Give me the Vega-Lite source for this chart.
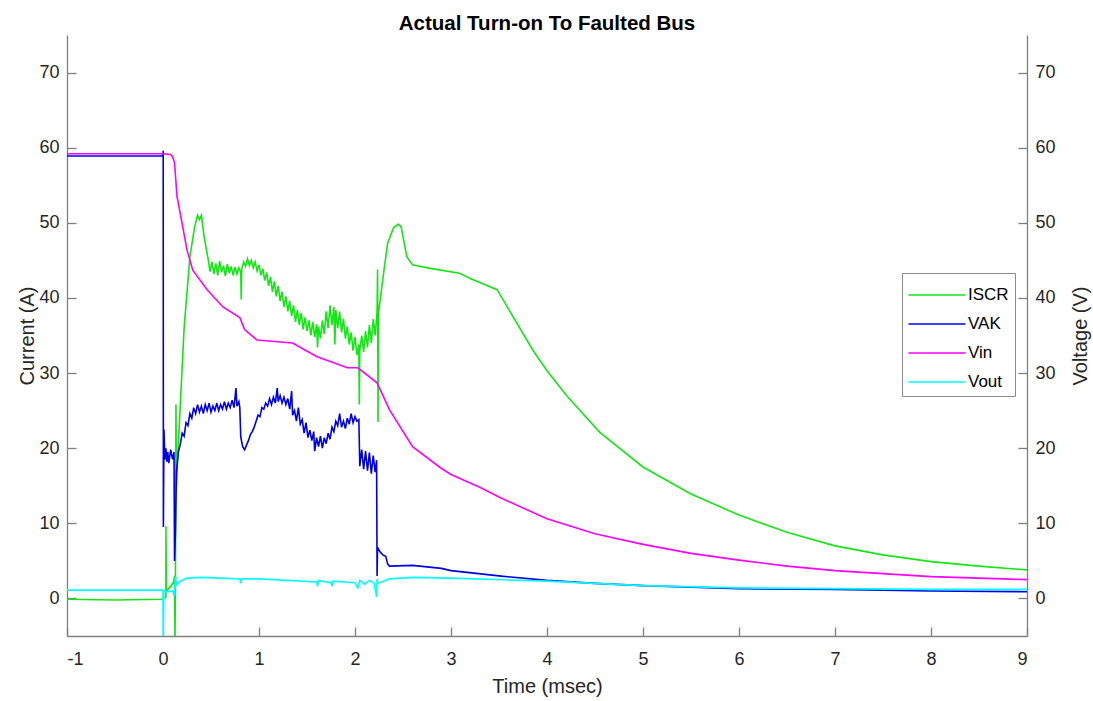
{
  "$schema": "https://vega.github.io/schema/vega-lite/v6.json",
  "autosize": {"type": "none"},
  "width": 960,
  "height": 601,
  "padding": {"left": 67, "top": 35, "right": 66, "bottom": 65},
  "background": "white",
  "title": {"text": "Actual Turn-on To Faulted Bus", "font": "Liberation Sans", "fontSize": 20.5, "fontWeight": "bold", "color": "#000000", "offset": 1},
  "config": {
    "view": {"stroke": null},
    "axis": {"domainColor": "#7f7f7f", "tickColor": "#7f7f7f", "labelColor": "#262626", "titleColor": "#262626", "labelFont": "Liberation Sans", "titleFont": "Liberation Sans", "labelFontSize": 18, "titleFontSize": 20, "titleFontWeight": "normal", "grid": false, "tickSize": -9, "domainWidth": 1.3, "tickWidth": 1.3, "labelExpr": "'' + datum.value"},
    "legend": {"labelFont": "Liberation Sans", "labelFontSize": 17, "labelColor": "#000000"}
  },
  "data": {"values": [
    {"s":"ISCR","t":-1.0,"v":-0.1},{"s":"ISCR","t":-0.5,"v":-0.2},{"s":"ISCR","t":0.0,"v":-0.1},{"s":"ISCR","t":0.03,"v":0.2},{"s":"ISCR","t":0.031,"v":9.6},{"s":"ISCR","t":0.035,"v":1.0},{"s":"ISCR","t":0.08,"v":1.6},{"s":"ISCR","t":0.11,"v":2.2},{"s":"ISCR","t":0.12,"v":3.0},{"s":"ISCR","t":0.125,"v":-6},{"s":"ISCR","t":0.13,"v":4.0},{"s":"ISCR","t":0.135,"v":25.8},{"s":"ISCR","t":0.14,"v":15.0},{"s":"ISCR","t":0.15,"v":18.0},{"s":"ISCR","t":0.22,"v":36.0},{"s":"ISCR","t":0.28,"v":45.5},{"s":"ISCR","t":0.33,"v":49.5},{"s":"ISCR","t":0.36,"v":51.0},{"s":"ISCR","t":0.38,"v":50.4},{"s":"ISCR","t":0.40,"v":51.0},{"s":"ISCR","t":0.43,"v":48.0},
    {"s":"ISCR","t":0.47,"v":45.2},{"s":"ISCR","t":0.49,"v":43.5},{"s":"ISCR","t":0.51,"v":44.8},{"s":"ISCR","t":0.53,"v":43.2},{"s":"ISCR","t":0.55,"v":44.6},{"s":"ISCR","t":0.57,"v":43.0},{"s":"ISCR","t":0.59,"v":44.9},{"s":"ISCR","t":0.61,"v":43.4},{"s":"ISCR","t":0.63,"v":44.3},{"s":"ISCR","t":0.65,"v":42.9},{"s":"ISCR","t":0.67,"v":44.5},{"s":"ISCR","t":0.69,"v":43.3},{"s":"ISCR","t":0.71,"v":44.2},{"s":"ISCR","t":0.73,"v":43.0},{"s":"ISCR","t":0.75,"v":44.1},{"s":"ISCR","t":0.77,"v":43.2},{"s":"ISCR","t":0.79,"v":44.0},{"s":"ISCR","t":0.81,"v":43.5},{"s":"ISCR","t":0.815,"v":39.8},{"s":"ISCR","t":0.82,"v":43.8},{"s":"ISCR","t":0.84,"v":44.8},{"s":"ISCR","t":0.86,"v":44.2},{"s":"ISCR","t":0.88,"v":45.2},{"s":"ISCR","t":0.90,"v":44.3},{"s":"ISCR","t":0.92,"v":45.0},{"s":"ISCR","t":0.94,"v":44.0},{"s":"ISCR","t":0.96,"v":44.8},{"s":"ISCR","t":0.98,"v":43.6},{"s":"ISCR","t":1.00,"v":44.4},{"s":"ISCR","t":1.02,"v":43.0},{"s":"ISCR","t":1.04,"v":43.9},{"s":"ISCR","t":1.06,"v":42.3},{"s":"ISCR","t":1.08,"v":43.4},{"s":"ISCR","t":1.10,"v":41.6},{"s":"ISCR","t":1.12,"v":42.8},{"s":"ISCR","t":1.14,"v":40.8},{"s":"ISCR","t":1.16,"v":42.2},{"s":"ISCR","t":1.18,"v":40.2},{"s":"ISCR","t":1.20,"v":41.6},{"s":"ISCR","t":1.22,"v":39.6},{"s":"ISCR","t":1.24,"v":40.8},{"s":"ISCR","t":1.26,"v":38.8},{"s":"ISCR","t":1.28,"v":40.2},{"s":"ISCR","t":1.30,"v":38.2},{"s":"ISCR","t":1.32,"v":39.6},{"s":"ISCR","t":1.34,"v":37.6},{"s":"ISCR","t":1.36,"v":39.0},{"s":"ISCR","t":1.38,"v":36.8},{"s":"ISCR","t":1.40,"v":38.4},{"s":"ISCR","t":1.42,"v":36.4},{"s":"ISCR","t":1.44,"v":38.0},{"s":"ISCR","t":1.46,"v":35.8},{"s":"ISCR","t":1.48,"v":37.4},{"s":"ISCR","t":1.50,"v":35.6},{"s":"ISCR","t":1.52,"v":37.0},{"s":"ISCR","t":1.54,"v":35.0},{"s":"ISCR","t":1.56,"v":36.8},{"s":"ISCR","t":1.58,"v":34.8},{"s":"ISCR","t":1.60,"v":36.5},{"s":"ISCR","t":1.61,"v":33.4},{"s":"ISCR","t":1.62,"v":36.2},{"s":"ISCR","t":1.64,"v":34.6},{"s":"ISCR","t":1.66,"v":37.0},{"s":"ISCR","t":1.68,"v":35.2},{"s":"ISCR","t":1.70,"v":38.2},{"s":"ISCR","t":1.72,"v":36.0},{"s":"ISCR","t":1.74,"v":39.0},{"s":"ISCR","t":1.76,"v":36.4},{"s":"ISCR","t":1.78,"v":38.8},{"s":"ISCR","t":1.79,"v":33.8},{"s":"ISCR","t":1.80,"v":38.4},{"s":"ISCR","t":1.82,"v":36.0},{"s":"ISCR","t":1.84,"v":38.2},{"s":"ISCR","t":1.86,"v":35.4},{"s":"ISCR","t":1.88,"v":37.2},{"s":"ISCR","t":1.90,"v":34.6},{"s":"ISCR","t":1.92,"v":36.2},{"s":"ISCR","t":1.94,"v":33.8},{"s":"ISCR","t":1.96,"v":35.4},{"s":"ISCR","t":1.98,"v":33.0},{"s":"ISCR","t":2.00,"v":34.8},{"s":"ISCR","t":2.02,"v":32.4},{"s":"ISCR","t":2.04,"v":33.8},{"s":"ISCR","t":2.045,"v":25.8},{"s":"ISCR","t":2.05,"v":33.0},{"s":"ISCR","t":2.07,"v":35.0},{"s":"ISCR","t":2.09,"v":32.8},{"s":"ISCR","t":2.11,"v":35.6},{"s":"ISCR","t":2.13,"v":33.4},{"s":"ISCR","t":2.15,"v":36.4},{"s":"ISCR","t":2.17,"v":34.0},{"s":"ISCR","t":2.19,"v":37.2},{"s":"ISCR","t":2.21,"v":35.0},{"s":"ISCR","t":2.23,"v":38.2},{"s":"ISCR","t":2.235,"v":43.8},{"s":"ISCR","t":2.24,"v":23.5},{"s":"ISCR","t":2.245,"v":38.0},{"s":"ISCR","t":2.27,"v":40.5},{"s":"ISCR","t":2.30,"v":43.5},{"s":"ISCR","t":2.34,"v":47.3},{"s":"ISCR","t":2.40,"v":49.3},{"s":"ISCR","t":2.45,"v":49.8},{"s":"ISCR","t":2.48,"v":49.5},{"s":"ISCR","t":2.51,"v":47.5},{"s":"ISCR","t":2.54,"v":45.5},{"s":"ISCR","t":2.60,"v":44.4},{"s":"ISCR","t":2.8,"v":43.9},{"s":"ISCR","t":3.09,"v":43.3},{"s":"ISCR","t":3.2,"v":42.6},{"s":"ISCR","t":3.48,"v":41.1},{"s":"ISCR","t":3.6,"v":38.5},{"s":"ISCR","t":3.85,"v":33.1},{"s":"ISCR","t":4.0,"v":30.3},{"s":"ISCR","t":4.21,"v":26.9},{"s":"ISCR","t":4.55,"v":22.1},{"s":"ISCR","t":5.0,"v":17.5},{"s":"ISCR","t":5.5,"v":13.9},{"s":"ISCR","t":6.0,"v":11.1},{"s":"ISCR","t":6.5,"v":8.8},{"s":"ISCR","t":7.0,"v":7.0},{"s":"ISCR","t":7.5,"v":5.8},{"s":"ISCR","t":8.0,"v":4.9},{"s":"ISCR","t":8.5,"v":4.3},{"s":"ISCR","t":9.0,"v":3.8},

    {"s":"VAK","t":-1.0,"v":58.9},{"s":"VAK","t":0.0,"v":58.9},{"s":"VAK","t":0.002,"v":59.6},{"s":"VAK","t":0.004,"v":9.5},{"s":"VAK","t":0.01,"v":22.5},{"s":"VAK","t":0.02,"v":18.5},{"s":"VAK","t":0.03,"v":20.0},{"s":"VAK","t":0.04,"v":18.2},{"s":"VAK","t":0.05,"v":19.5},{"s":"VAK","t":0.06,"v":18.0},{"s":"VAK","t":0.08,"v":19.8},{"s":"VAK","t":0.10,"v":18.5},{"s":"VAK","t":0.115,"v":19.5},{"s":"VAK","t":0.12,"v":5.0},{"s":"VAK","t":0.13,"v":9.0},{"s":"VAK","t":0.14,"v":16.8},{"s":"VAK","t":0.16,"v":19.5},
    {"s":"VAK","t":0.18,"v":20.5},{"s":"VAK","t":0.20,"v":22.0},{"s":"VAK","t":0.22,"v":21.6},{"s":"VAK","t":0.24,"v":23.4},{"s":"VAK","t":0.26,"v":23.0},{"s":"VAK","t":0.28,"v":24.6},{"s":"VAK","t":0.30,"v":24.0},{"s":"VAK","t":0.32,"v":25.4},{"s":"VAK","t":0.34,"v":24.6},{"s":"VAK","t":0.36,"v":25.8},{"s":"VAK","t":0.38,"v":24.8},{"s":"VAK","t":0.40,"v":25.6},{"s":"VAK","t":0.42,"v":24.6},{"s":"VAK","t":0.44,"v":25.8},{"s":"VAK","t":0.46,"v":25.0},{"s":"VAK","t":0.48,"v":26.0},{"s":"VAK","t":0.50,"v":24.8},{"s":"VAK","t":0.52,"v":25.6},{"s":"VAK","t":0.54,"v":25.0},{"s":"VAK","t":0.56,"v":26.0},{"s":"VAK","t":0.58,"v":25.0},{"s":"VAK","t":0.60,"v":25.8},{"s":"VAK","t":0.62,"v":25.2},{"s":"VAK","t":0.64,"v":26.2},{"s":"VAK","t":0.66,"v":25.2},{"s":"VAK","t":0.68,"v":26.0},{"s":"VAK","t":0.70,"v":25.4},{"s":"VAK","t":0.72,"v":26.4},{"s":"VAK","t":0.74,"v":25.4},{"s":"VAK","t":0.76,"v":28.0},{"s":"VAK","t":0.77,"v":25.6},{"s":"VAK","t":0.79,"v":26.2},{"s":"VAK","t":0.80,"v":25.4},{"s":"VAK","t":0.81,"v":21.5},{"s":"VAK","t":0.83,"v":20.2},{"s":"VAK","t":0.85,"v":19.8},{"s":"VAK","t":0.87,"v":20.4},{"s":"VAK","t":0.89,"v":21.0},{"s":"VAK","t":0.91,"v":21.8},{"s":"VAK","t":0.93,"v":22.2},{"s":"VAK","t":0.95,"v":22.8},{"s":"VAK","t":0.97,"v":23.6},{"s":"VAK","t":0.99,"v":24.4},{"s":"VAK","t":1.01,"v":24.2},{"s":"VAK","t":1.03,"v":25.4},{"s":"VAK","t":1.05,"v":25.2},{"s":"VAK","t":1.07,"v":26.0},{"s":"VAK","t":1.09,"v":25.6},{"s":"VAK","t":1.11,"v":26.6},{"s":"VAK","t":1.13,"v":25.8},{"s":"VAK","t":1.15,"v":26.8},{"s":"VAK","t":1.17,"v":26.0},{"s":"VAK","t":1.19,"v":28.0},{"s":"VAK","t":1.20,"v":26.2},{"s":"VAK","t":1.22,"v":27.0},{"s":"VAK","t":1.24,"v":26.0},{"s":"VAK","t":1.26,"v":26.8},{"s":"VAK","t":1.28,"v":25.8},{"s":"VAK","t":1.30,"v":26.6},{"s":"VAK","t":1.32,"v":25.2},{"s":"VAK","t":1.34,"v":27.6},{"s":"VAK","t":1.35,"v":24.4},{"s":"VAK","t":1.37,"v":25.0},{"s":"VAK","t":1.39,"v":23.6},{"s":"VAK","t":1.41,"v":25.4},{"s":"VAK","t":1.43,"v":23.2},{"s":"VAK","t":1.45,"v":23.8},{"s":"VAK","t":1.47,"v":22.0},{"s":"VAK","t":1.49,"v":23.4},{"s":"VAK","t":1.51,"v":21.4},{"s":"VAK","t":1.53,"v":22.4},{"s":"VAK","t":1.55,"v":21.0},{"s":"VAK","t":1.57,"v":22.2},{"s":"VAK","t":1.58,"v":19.6},{"s":"VAK","t":1.60,"v":21.4},{"s":"VAK","t":1.62,"v":20.2},{"s":"VAK","t":1.64,"v":21.6},{"s":"VAK","t":1.66,"v":20.0},{"s":"VAK","t":1.68,"v":21.4},{"s":"VAK","t":1.70,"v":20.6},{"s":"VAK","t":1.72,"v":22.0},{"s":"VAK","t":1.74,"v":21.2},{"s":"VAK","t":1.76,"v":22.8},{"s":"VAK","t":1.78,"v":22.2},{"s":"VAK","t":1.80,"v":23.6},{"s":"VAK","t":1.82,"v":23.0},{"s":"VAK","t":1.84,"v":24.6},{"s":"VAK","t":1.86,"v":22.8},{"s":"VAK","t":1.88,"v":23.6},{"s":"VAK","t":1.90,"v":22.6},{"s":"VAK","t":1.92,"v":24.0},{"s":"VAK","t":1.94,"v":23.2},{"s":"VAK","t":1.96,"v":24.6},{"s":"VAK","t":1.98,"v":23.4},{"s":"VAK","t":2.00,"v":24.2},{"s":"VAK","t":2.02,"v":23.6},{"s":"VAK","t":2.04,"v":23.8},{"s":"VAK","t":2.05,"v":17.6},{"s":"VAK","t":2.07,"v":19.8},{"s":"VAK","t":2.09,"v":17.2},{"s":"VAK","t":2.11,"v":19.6},{"s":"VAK","t":2.13,"v":17.0},{"s":"VAK","t":2.15,"v":19.4},{"s":"VAK","t":2.17,"v":16.6},{"s":"VAK","t":2.19,"v":19.0},{"s":"VAK","t":2.21,"v":16.8},{"s":"VAK","t":2.225,"v":18.4},{"s":"VAK","t":2.23,"v":3.0},{"s":"VAK","t":2.235,"v":6.8},{"s":"VAK","t":2.26,"v":6.2},{"s":"VAK","t":2.29,"v":5.8},{"s":"VAK","t":2.32,"v":5.6},{"s":"VAK","t":2.34,"v":4.6},{"s":"VAK","t":2.36,"v":4.3},{"s":"VAK","t":2.6,"v":4.4},{"s":"VAK","t":2.9,"v":4.0},{"s":"VAK","t":3.0,"v":3.7},{"s":"VAK","t":3.5,"v":3.0},{"s":"VAK","t":4.0,"v":2.4},{"s":"VAK","t":4.5,"v":2.0},{"s":"VAK","t":5.0,"v":1.7},{"s":"VAK","t":6.0,"v":1.3},{"s":"VAK","t":7.0,"v":1.2},{"s":"VAK","t":8.0,"v":1.0},{"s":"VAK","t":9.0,"v":0.9},

    {"s":"Vin","t":-1.0,"v":59.2},{"s":"Vin","t":0.0,"v":59.2},{"s":"Vin","t":0.08,"v":59.1},{"s":"Vin","t":0.10,"v":58.8},{"s":"Vin","t":0.12,"v":58.0},{"s":"Vin","t":0.146,"v":53.5},{"s":"Vin","t":0.198,"v":50.0},{"s":"Vin","t":0.25,"v":46.4},{"s":"Vin","t":0.31,"v":43.7},{"s":"Vin","t":0.46,"v":41.1},{"s":"Vin","t":0.625,"v":38.8},{"s":"Vin","t":0.80,"v":37.4},{"s":"Vin","t":0.85,"v":35.8},{"s":"Vin","t":0.98,"v":34.4},{"s":"Vin","t":1.35,"v":34.0},{"s":"Vin","t":1.6,"v":32.2},{"s":"Vin","t":1.92,"v":30.7},{"s":"Vin","t":2.03,"v":30.7},{"s":"Vin","t":2.23,"v":28.7},{"s":"Vin","t":2.36,"v":25.1},{"s":"Vin","t":2.6,"v":20.2},{"s":"Vin","t":2.89,"v":17.4},{"s":"Vin","t":3.0,"v":16.5},{"s":"Vin","t":3.3,"v":14.8},{"s":"Vin","t":3.5,"v":13.5},{"s":"Vin","t":4.0,"v":10.6},{"s":"Vin","t":4.5,"v":8.6},{"s":"Vin","t":5.0,"v":7.2},{"s":"Vin","t":5.5,"v":6.0},{"s":"Vin","t":6.0,"v":5.1},{"s":"Vin","t":6.5,"v":4.3},{"s":"Vin","t":7.0,"v":3.7},{"s":"Vin","t":7.5,"v":3.3},{"s":"Vin","t":8.0,"v":2.9},{"s":"Vin","t":8.5,"v":2.7},{"s":"Vin","t":9.0,"v":2.5},

    {"s":"Vout","t":-1.0,"v":1.1},{"s":"Vout","t":0.0,"v":1.1},{"s":"Vout","t":0.002,"v":-6},{"s":"Vout","t":0.008,"v":1.0},{"s":"Vout","t":0.05,"v":0.9},{"s":"Vout","t":0.10,"v":1.0},{"s":"Vout","t":0.12,"v":0.3},{"s":"Vout","t":0.13,"v":2.9},{"s":"Vout","t":0.14,"v":1.8},{"s":"Vout","t":0.18,"v":2.3},{"s":"Vout","t":0.25,"v":2.7},{"s":"Vout","t":0.4,"v":2.8},{"s":"Vout","t":0.6,"v":2.7},{"s":"Vout","t":0.8,"v":2.6},{"s":"Vout","t":0.81,"v":2.0},{"s":"Vout","t":0.82,"v":2.6},{"s":"Vout","t":1.0,"v":2.6},{"s":"Vout","t":1.3,"v":2.4},{"s":"Vout","t":1.6,"v":2.2},{"s":"Vout","t":1.61,"v":1.6},{"s":"Vout","t":1.62,"v":2.4},{"s":"Vout","t":1.75,"v":2.1},{"s":"Vout","t":1.76,"v":1.6},{"s":"Vout","t":1.77,"v":2.3},{"s":"Vout","t":2.0,"v":2.1},{"s":"Vout","t":2.03,"v":1.4},{"s":"Vout","t":2.05,"v":2.4},{"s":"Vout","t":2.1,"v":1.9},{"s":"Vout","t":2.15,"v":2.4},{"s":"Vout","t":2.2,"v":2.0},{"s":"Vout","t":2.225,"v":0.2},{"s":"Vout","t":2.23,"v":2.6},{"s":"Vout","t":2.235,"v":2.0},{"s":"Vout","t":2.36,"v":2.6},{"s":"Vout","t":2.6,"v":2.8},{"s":"Vout","t":3.0,"v":2.7},{"s":"Vout","t":4.0,"v":2.3},{"s":"Vout","t":5.0,"v":1.7},{"s":"Vout","t":6.0,"v":1.4},{"s":"Vout","t":7.0,"v":1.3},{"s":"Vout","t":8.0,"v":1.2},{"s":"Vout","t":9.0,"v":1.2}
  ]},
  "encoding": {
    "x": {"field": "t", "type": "quantitative", "scale": {"domain": [-1, 9], "nice": false},
      "axis": {"title": "Time (msec)", "values": [-1,0,1,2,3,4,5,6,7,8,9], "labelPadding": 23, "titlePadding": 8}},
    "color": {"field": "s", "type": "nominal",
      "scale": {"domain": ["ISCR","VAK","Vin","Vout"], "range": ["#14e614","#0000e6","#ff00ff","#00ffff"]},
      "legend": {"title": null, "orient": "none", "legendX": 835, "legendY": 238, "strokeColor": "#8a8a8a", "fillColor": "white", "padding": 6, "symbolType": "M-1.9,0H1.9", "symbolSize": 900, "symbolOffset": 13, "symbolStrokeWidth": 1.6, "labelOffset": 15, "rowPadding": 5}}
  },
  "layer": [
    {
      "transform": [{"filter": "datum.s == 'ISCR'"}],
      "mark": {"type": "line", "strokeWidth": 1.6, "clip": true},
      "encoding": {
        "y": {"field": "v", "type": "quantitative", "scale": {"domain": [-5, 75], "nice": false},
          "axis": {"orient": "left", "title": "Current (A)", "values": [0,10,20,30,40,50,60,70], "labelPadding": 17, "titlePadding": 1}}
      }
    },
    {
      "transform": [{"filter": "datum.s != 'ISCR'"}],
      "mark": {"type": "line", "strokeWidth": 1.6, "clip": true},
      "encoding": {
        "y": {"field": "v", "type": "quantitative", "scale": {"domain": [-5, 75], "nice": false},
          "axis": {"orient": "right", "title": "Voltage (V)", "values": [0,10,20,30,40,50,60,70], "labelPadding": 17, "titlePadding": 15, "titleAngle": 270, "titleBaseline": "top"}}
      }
    }
  ],
  "resolve": {"scale": {"y": "independent"}}
}
